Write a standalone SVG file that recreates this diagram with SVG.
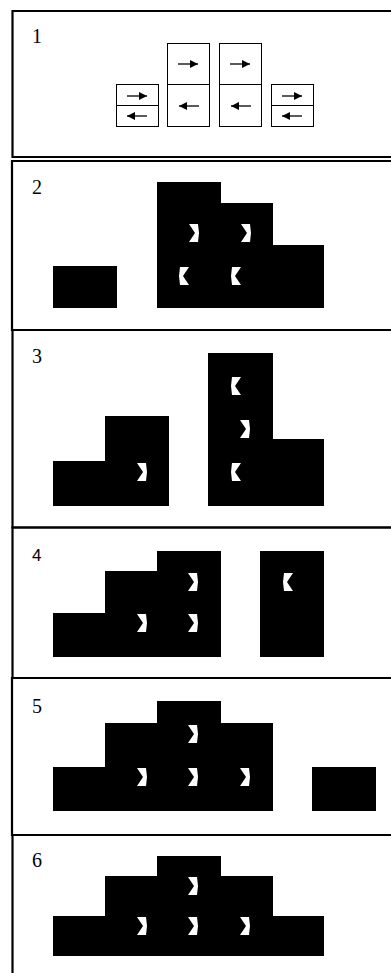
<svg xmlns="http://www.w3.org/2000/svg" width="391" height="973" viewBox="0 0 391 973">
<style>
.panel{fill:none;stroke:#000;stroke-width:2.2}
.lbl{font-family:"Liberation Serif","Times New Roman",serif;font-size:20px;fill:#000}
.lbls{font-family:"Liberation Sans",Arial,sans-serif;font-size:17px;fill:#000}
.box{fill:#fff;stroke:#000;stroke-width:1}
.div{stroke:#000;stroke-width:1}
.arr{stroke:#000;stroke-width:1.3;fill:none}
.blk{fill:#000}
</style>
<defs>
<marker id="ah" viewBox="0 0 10 10" markerUnits="userSpaceOnUse" markerWidth="9" markerHeight="8" refX="10" refY="5" orient="auto">
<path d="M0,0 L10,5 L0,10 z" fill="#000"/>
</marker>
<polygon id="cr" points="0,0 9,0 10,9 9,18 0,18 6,9" fill="#fff"/>
<polygon id="cl" points="10,0 1,0 0,9 1,18 10,18 4,9" fill="#fff"/>
</defs>

<path class="panel" d="M420,11 H12.5 V157 H420"/>
<path class="panel" d="M420,161 H12 V330 H420"/>
<path class="panel" d="M420,330 H12.5 V527.5 H420"/>
<path class="panel" d="M420,527.5 H12.5 V678 H420"/>
<path class="panel" d="M420,678 H12 V835 H420"/>
<path class="panel" d="M420,835 H12.5 V980"/>

<g id="panel1">
<text class="lbl" x="32" y="43">1</text>
<g id="p1-a">
<rect class="box" x="116.5" y="84.5" width="42" height="42"/>
<line class="div" x1="116.5" y1="105.5" x2="158.5" y2="105.5"/>
<line class="arr" x1="127" y1="96" x2="147" y2="96" marker-end="url(#ah)"/>
<line class="arr" x1="147" y1="116" x2="127" y2="116" marker-end="url(#ah)"/>
</g>
<g id="p1-b">
<rect class="box" x="167.5" y="43.5" width="42" height="83"/>
<line class="div" x1="167.5" y1="84.5" x2="209.5" y2="84.5"/>
<line class="arr" x1="178" y1="64" x2="198" y2="64" marker-end="url(#ah)"/>
<line class="arr" x1="199" y1="106" x2="179" y2="106" marker-end="url(#ah)"/>
</g>
<g id="p1-c">
<rect class="box" x="219.5" y="43.5" width="42" height="83"/>
<line class="div" x1="219.5" y1="84.5" x2="261.5" y2="84.5"/>
<line class="arr" x1="230" y1="64" x2="250" y2="64" marker-end="url(#ah)"/>
<line class="arr" x1="251" y1="106" x2="231" y2="106" marker-end="url(#ah)"/>
</g>
<g id="p1-d">
<rect class="box" x="271.5" y="84.5" width="42" height="42"/>
<line class="div" x1="271.5" y1="105.5" x2="313.5" y2="105.5"/>
<line class="arr" x1="282" y1="96" x2="302" y2="96" marker-end="url(#ah)"/>
<line class="arr" x1="302" y1="116" x2="282" y2="116" marker-end="url(#ah)"/>
</g>
</g>

<g id="panel2">
<text class="lbl" x="32" y="194">2</text>
<rect class="blk" x="53" y="266" width="64" height="42"/>
<g id="p2-shape">
<rect class="blk" x="157" y="182" width="64" height="126"/>
<rect class="blk" x="221" y="203" width="52" height="105"/>
<rect class="blk" x="273" y="245" width="51" height="63"/>
<use href="#cr" x="189" y="224"/>
<use href="#cr" x="241" y="224"/>
<use href="#cl" x="179" y="267"/>
<use href="#cl" x="231" y="267"/>
</g>
</g>

<g id="panel3">
<text class="lbl" x="32" y="363">3</text>
<g id="p3-left">
<rect class="blk" x="53" y="461" width="52" height="45"/>
<rect class="blk" x="105" y="416" width="64" height="90"/>
<use href="#cr" x="137" y="463"/>
</g>
<g id="p3-right">
<rect class="blk" x="208" y="353" width="65" height="153"/>
<rect class="blk" x="273" y="439" width="51" height="67"/>
<use href="#cl" x="231" y="377"/>
<use href="#cr" x="240" y="420"/>
<use href="#cl" x="231" y="463"/>
</g>
</g>

<g id="panel4">
<text class="lbls" x="32" y="561">4</text>
<g id="p4-left">
<rect class="blk" x="53" y="613" width="52" height="44"/>
<rect class="blk" x="105" y="571" width="52" height="86"/>
<rect class="blk" x="157" y="551" width="64" height="106"/>
<use href="#cr" x="188" y="573"/>
<use href="#cr" x="188" y="614"/>
<use href="#cr" x="137" y="614"/>
</g>
<g id="p4-right">
<rect class="blk" x="260" y="551" width="64" height="106"/>
<use href="#cl" x="283" y="573"/>
</g>
</g>

<g id="panel5">
<text class="lbl" x="32" y="713">5</text>
<g id="p5-left">
<rect class="blk" x="53" y="767" width="220" height="44"/>
<rect class="blk" x="105" y="723" width="168" height="88"/>
<rect class="blk" x="157" y="701" width="64" height="110"/>
<use href="#cr" x="188" y="725"/>
<use href="#cr" x="137" y="768"/>
<use href="#cr" x="188" y="768"/>
<use href="#cr" x="240" y="768"/>
</g>
<rect id="p5-right" class="blk" x="312" y="767" width="64" height="44"/>
</g>

<g id="panel6">
<text class="lbl" x="32" y="867">6</text>
<g id="p6-shape">
<rect class="blk" x="53" y="916" width="271" height="40"/>
<rect class="blk" x="105" y="876" width="168" height="80"/>
<rect class="blk" x="157" y="856" width="64" height="100"/>
<use href="#cr" x="188" y="877"/>
<use href="#cr" x="137" y="917"/>
<use href="#cr" x="188" y="917"/>
<use href="#cr" x="240" y="917"/>
</g>
</g>
</svg>
